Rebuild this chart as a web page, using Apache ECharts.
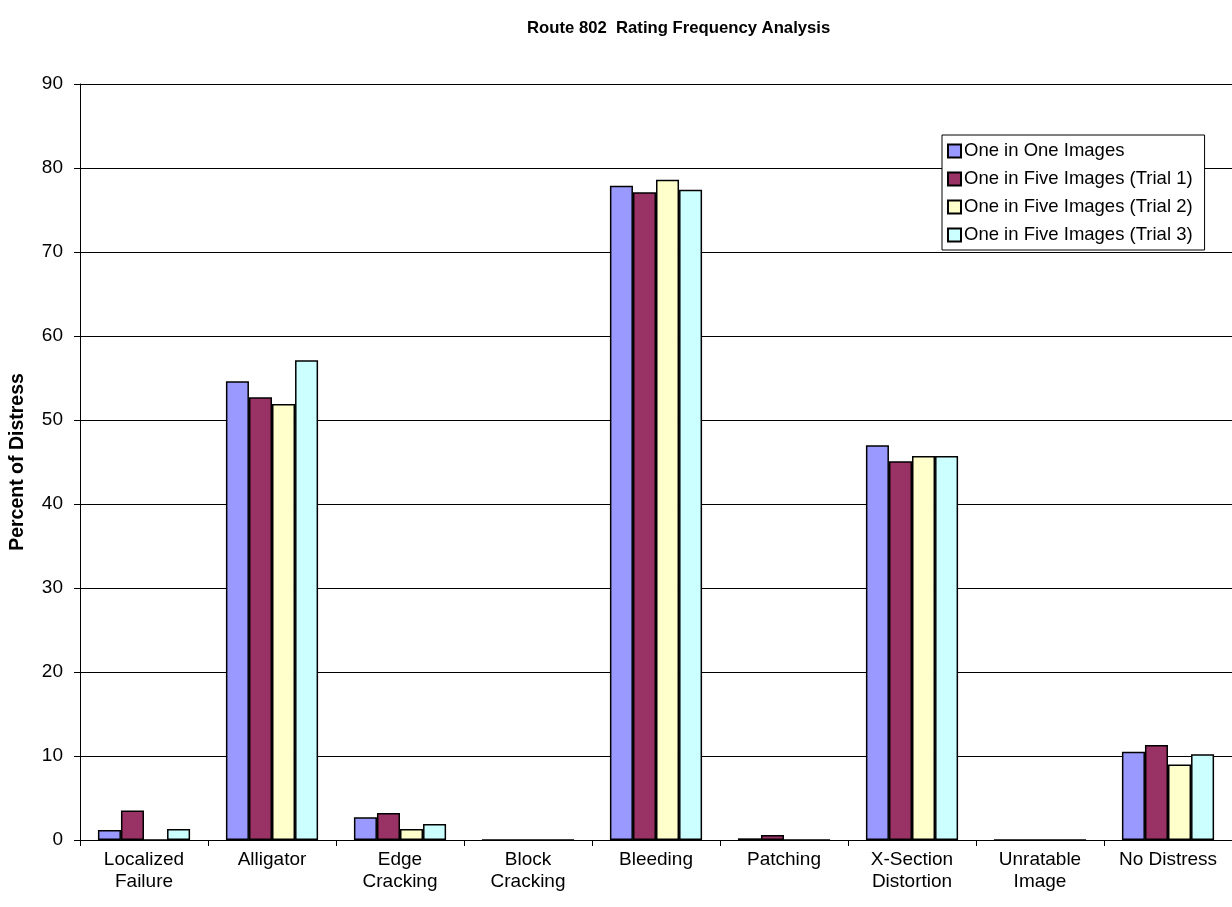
<!DOCTYPE html>
<html>
<head>
<meta charset="utf-8">
<title>Route 802 Rating Frequency Analysis</title>
<script src="https://cdn.jsdelivr.net/npm/echarts@6/dist/echarts.min.js"></script>
<style>
  html, body { margin: 0; padding: 0; background: #fff; }
  #chart { width: 1232px; height: 907px; }
</style>
</head>
<body>
<div id="chart"></div>
<script>
// Distress categories along the x axis
const categories = [
  'Localized\nFailure', 'Alligator', 'Edge\nCracking', 'Block\nCracking',
  'Bleeding', 'Patching', 'X-Section\nDistortion', 'Unratable\nImage', 'No Distress'
];

// Percent of distress per rating method
const oneInOne    = [1.2, 54.6, 2.7, 0, 77.9, 0.2, 47.0, 0, 10.5];
const fiveTrial1  = [3.5, 52.7, 3.2, 0, 77.1, 0.6, 45.1, 0, 11.3];
const fiveTrial2  = [0,   51.9, 1.3, 0, 78.6, 0,   45.7, 0, 9.0];
const fiveTrial3  = [1.3, 57.1, 1.9, 0, 77.4, 0,   45.7, 0, 10.2];

const seriesNames = [
  'One in One Images',
  'One in Five Images (Trial 1)',
  'One in Five Images (Trial 2)',
  'One in Five Images (Trial 3)'
];
const seriesColors = ['#9999FF', '#993366', '#FFFFCC', '#CCFFFF'];
const seriesData = [oneInOne, fiveTrial1, fiveTrial2, fiveTrial3];

const FONT = '"Liberation Sans", Arial, sans-serif';

const chart = echarts.init(document.getElementById('chart'), null, { renderer: 'canvas' });

chart.setOption({
  backgroundColor: '#ffffff',
  animation: false,
  textStyle: { fontFamily: FONT, color: '#000' },
  title: {
    text: 'Route 802  Rating Frequency Analysis',
    left: 522,
    top: 15,
    textStyle: { fontFamily: FONT, fontSize: 16.7, fontWeight: 'bold', color: '#000' }
  },
  legend: {
    orient: 'vertical',
    left: 942,
    top: 135,
    width: 264,
    backgroundColor: '#ffffff',
    borderColor: '#000',
    borderWidth: 1,
    borderRadius: 0,
    padding: [6, 12, 5, 5],
    itemGap: 8,
    itemWidth: 13,
    itemHeight: 13,
    icon: 'rect',
    textStyle: { fontFamily: FONT, fontSize: 18.5, color: '#000', lineHeight: 20, padding: [0, 0, 0, -2] },
    data: seriesNames
  },
  grid: {
    left: 80,
    top: 84,
    width: 1158,
    height: 756,
    containLabel: false
  },
  xAxis: {
    type: 'category',
    data: categories,
    axisLine: { lineStyle: { color: '#000', width: 1 } },
    axisTick: { show: true, inside: false, length: 6, alignWithLabel: false, lineStyle: { color: '#000' } },
    axisLabel: {
      fontFamily: FONT, fontSize: 19, color: '#000', margin: 9, lineHeight: 22, interval: 0
    },
    splitLine: { show: false }
  },
  yAxis: {
    type: 'value',
    min: 0,
    max: 90,
    interval: 10,
    name: 'Percent of Distress',
    nameLocation: 'middle',
    nameGap: 52,
    nameRotate: 90,
    nameTextStyle: { fontFamily: FONT, fontSize: 19.5, fontWeight: 'bold', color: '#000' },
    axisLine: { show: true, lineStyle: { color: '#000', width: 1 } },
    axisTick: { show: true, inside: false, length: 6, lineStyle: { color: '#000' } },
    axisLabel: { fontFamily: FONT, fontSize: 19, color: '#000', margin: 17 },
    splitLine: { show: true, lineStyle: { color: '#000', width: 1 } }
  },
  series: seriesNames.map((name, i) => ({
    name: name,
    type: 'bar',
    data: seriesData[i],
    barGap: '0%',
    barCategoryGap: '28%',
    itemStyle: {
      color: seriesColors[i],
      borderColor: '#000',
      borderWidth: 1.5
    }
  }))
});
</script>
</body>
</html>
